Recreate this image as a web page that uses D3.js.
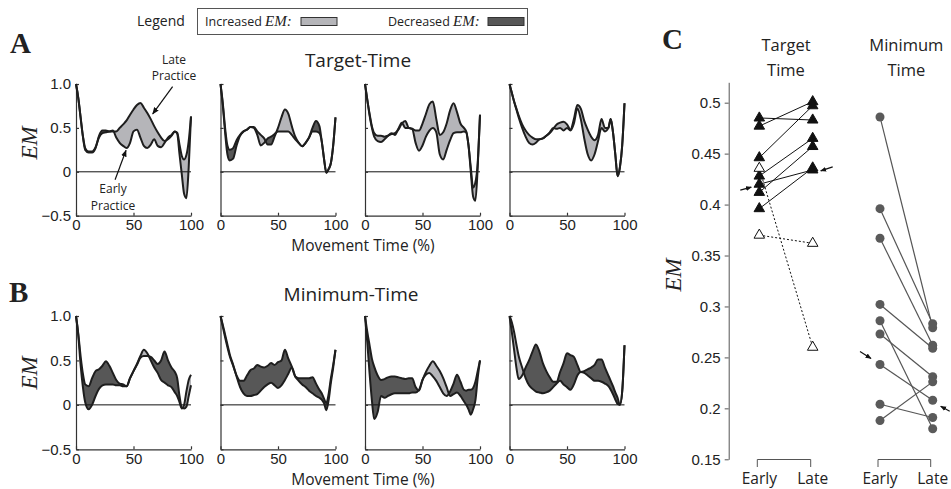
<!DOCTYPE html>
<html lang="en">
<head>
<meta charset="UTF-8">
<title>EM early vs late practice</title>
<script src="https://cdnjs.cloudflare.com/ajax/libs/d3/7.8.5/d3.min.js"></script>
<style>
    body { margin: 0; background: #fff; }
    text { fill: #222; }
    .sans { font-family: "Open Sans", sans-serif; }
    .serif { font-family: "Liberation Serif", "Times New Roman", serif; }
    .axis path, .axis line { stroke: #333; stroke-width: 1.2; }
    .axis text { font-family: "Liberation Sans", Arial, sans-serif; font-size: 15px; fill: #222; }
</style>
</head>
<body>
<svg id="chart" width="951" height="489"></svg>
<script>
// movement time (%) where the EM curves were read
const pct = [0,2,4,6,8,11,14,17,20,23,26,29,32,35,38,41,44,47,50,53,56,59,62,65,68,71,74,77,80,83,86,88,90,92,94,96,98,100];

// A: Target-Time, four subjects
const earlyTT1 = [1.0,0.84,0.62,0.40,0.25,0.22,0.22,0.27,0.41,0.47,0.47,0.46,0.47,0.39,0.33,0.295,0.27,0.33,0.46,0.48,0.39,0.295,0.27,0.31,0.37,0.295,0.28,0.33,0.39,0.42,0.46,0.435,0.2,-0.03,-0.25,-0.3,0.05,0.63];
const lateTT1  = [1.0,0.84,0.62,0.41,0.27,0.23,0.23,0.28,0.39,0.44,0.45,0.46,0.46,0.46,0.50,0.54,0.585,0.65,0.71,0.76,0.785,0.73,0.67,0.6,0.52,0.45,0.39,0.35,0.37,0.41,0.46,0.445,0.31,0.18,0.14,0.19,0.35,0.63];
const earlyTT2 = [1.0,0.78,0.5,0.3,0.25,0.27,0.36,0.42,0.46,0.48,0.51,0.5,0.42,0.3,0.33,0.38,0.4,0.43,0.46,0.46,0.46,0.46,0.42,0.37,0.33,0.29,0.33,0.39,0.5,0.58,0.52,0.35,0.15,-0.01,0.03,0.1,0.3,0.62];
const lateTT2  = [1.0,0.76,0.45,0.2,0.13,0.15,0.3,0.41,0.46,0.48,0.51,0.51,0.46,0.42,0.38,0.31,0.31,0.4,0.5,0.62,0.71,0.66,0.52,0.4,0.33,0.29,0.33,0.39,0.46,0.46,0.44,0.35,0.15,-0.01,0.03,0.1,0.3,0.62];
const earlyTT3 = [1.0,0.82,0.64,0.5,0.4,0.35,0.34,0.37,0.41,0.44,0.42,0.49,0.56,0.5,0.5,0.49,0.33,0.24,0.3,0.4,0.47,0.5,0.45,0.2,0.14,0.25,0.36,0.44,0.45,0.45,0.46,0.45,0.3,0.0,-0.28,-0.33,0.05,0.65];
const lateTT3  = [1.0,0.82,0.66,0.52,0.44,0.41,0.41,0.4,0.41,0.43,0.44,0.48,0.55,0.58,0.5,0.49,0.47,0.47,0.55,0.66,0.77,0.8,0.6,0.42,0.45,0.55,0.7,0.78,0.68,0.55,0.5,0.46,0.3,0.05,-0.18,-0.12,0.1,0.65];
const earlyTT4 = [1.0,0.9,0.8,0.71,0.62,0.5,0.4,0.33,0.31,0.33,0.37,0.38,0.41,0.45,0.5,0.49,0.5,0.47,0.5,0.47,0.55,0.72,0.6,0.38,0.2,0.13,0.2,0.35,0.5,0.46,0.5,0.6,0.45,0.2,-0.05,0.05,0.3,0.78];
const lateTT4  = [1.0,0.9,0.8,0.72,0.64,0.54,0.47,0.42,0.39,0.37,0.37,0.38,0.41,0.44,0.49,0.54,0.56,0.57,0.54,0.48,0.6,0.76,0.72,0.58,0.48,0.4,0.36,0.42,0.6,0.5,0.5,0.6,0.45,0.2,-0.05,0.05,0.3,0.78];

// B: Minimum-Time, four subjects
const earlyMT1 = [1.0,0.8,0.55,0.35,0.23,0.21,0.3,0.38,0.4,0.44,0.49,0.44,0.36,0.28,0.24,0.23,0.21,0.3,0.38,0.45,0.53,0.55,0.55,0.54,0.5,0.46,0.5,0.6,0.5,0.42,0.37,0.3,0.1,-0.03,-0.04,-0.02,0.1,0.22];
const lateMT1  = [1.0,0.78,0.45,0.2,0.03,-0.05,0.0,0.1,0.18,0.22,0.23,0.23,0.23,0.22,0.22,0.21,0.21,0.3,0.38,0.46,0.55,0.62,0.58,0.5,0.42,0.36,0.28,0.25,0.22,0.2,0.14,0.1,0.03,-0.04,0.0,0.15,0.28,0.34];
const earlyMT2 = [1.0,0.88,0.76,0.65,0.55,0.44,0.33,0.27,0.27,0.33,0.39,0.41,0.45,0.43,0.42,0.44,0.47,0.45,0.48,0.5,0.62,0.52,0.43,0.32,0.3,0.3,0.3,0.3,0.31,0.24,0.17,0.13,0.07,0.02,0.12,0.3,0.45,0.62];
const lateMT2  = [1.0,0.9,0.79,0.68,0.57,0.45,0.32,0.2,0.13,0.1,0.1,0.11,0.12,0.16,0.2,0.23,0.25,0.22,0.19,0.22,0.28,0.35,0.42,0.32,0.27,0.23,0.2,0.16,0.13,0.1,0.08,0.06,0.02,-0.06,0.05,0.25,0.42,0.62];
const earlyMT3 = [1.0,0.82,0.67,0.52,0.43,0.33,0.28,0.29,0.31,0.32,0.32,0.31,0.3,0.29,0.3,0.3,0.2,0.16,0.28,0.34,0.36,0.32,0.27,0.2,0.13,0.1,0.15,0.24,0.34,0.26,0.17,0.16,0.17,0.17,0.19,0.26,0.38,0.5];
const lateMT3  = [1.0,0.7,0.35,0.05,-0.16,-0.08,0.1,0.08,0.1,0.12,0.13,0.13,0.13,0.13,0.13,0.14,0.14,0.17,0.28,0.37,0.44,0.49,0.44,0.38,0.3,0.2,0.1,0.12,0.14,0.1,0.04,0.0,-0.05,-0.11,-0.05,0.05,0.3,0.5];
const earlyMT4 = [1.0,0.82,0.62,0.42,0.29,0.33,0.42,0.5,0.6,0.68,0.6,0.47,0.38,0.31,0.26,0.26,0.37,0.47,0.58,0.56,0.54,0.45,0.37,0.38,0.4,0.42,0.45,0.51,0.51,0.42,0.33,0.27,0.21,0.14,0.08,0.0,0.15,0.67];
const lateMT4  = [1.0,0.93,0.82,0.68,0.55,0.42,0.3,0.22,0.18,0.15,0.14,0.13,0.14,0.16,0.2,0.24,0.27,0.23,0.2,0.17,0.23,0.33,0.37,0.36,0.33,0.3,0.27,0.27,0.26,0.24,0.21,0.17,0.12,0.06,0.01,0.0,0.15,0.67];

const emTicks = [-0.5, 0, 0.5, 1.0];
const pctTicks = [0, 50, 100];

// C: mean EM per subject, early vs late
const phases = ['Early', 'Late'];
const ttEarly = [0.485, 0.477, 0.446, 0.428, 0.42, 0.412, 0.396];
const ttLate  = [0.483, 0.501, 0.497, 0.465, 0.434, 0.457, 0.436];
const ttOpenEarly = [0.4356, 0.37];
const ttOpenLate  = [0.26, 0.362];
const mtEarly = [0.486, 0.396, 0.367, 0.302, 0.286, 0.273, 0.243, 0.204, 0.188];
const mtLate  = [0.279, 0.283, 0.262, 0.259, 0.18, 0.231, 0.208, 0.191, 0.226];
const cTicks = [0.15, 0.2, 0.25, 0.3, 0.35, 0.4, 0.45, 0.5];

const lightFill = '#b5b5b9';
const darkFill = '#575757';

const svg = d3.select('#chart');

const defs = svg.append('defs');
defs.append('marker')
    .attr('id', 'head')
    .attr('viewBox', '0 0 10 10')
    .attr('refX', 9).attr('refY', 5)
    .attr('markerWidth', 7).attr('markerHeight', 7)
    .attr('markerUnits', 'userSpaceOnUse')
    .attr('orient', 'auto')
    .append('path').attr('d', 'M0,1L10,5L0,9z').style('fill', '#111');
defs.append('marker')
    .attr('id', 'headSmall')
    .attr('viewBox', '0 0 10 10')
    .attr('refX', 9).attr('refY', 5)
    .attr('markerWidth', 6).attr('markerHeight', 6)
    .attr('markerUnits', 'userSpaceOnUse')
    .attr('orient', 'auto')
    .append('path').attr('d', 'M0,1L10,5L0,9z').style('fill', '#111');

const drawArrow = (x1, y1, x2, y2, head) => {
    svg.append('line')
        .attr('x1', x1).attr('y1', y1).attr('x2', x2).attr('y2', y2)
        .style('stroke', '#111').style('stroke-width', 1.2)
        .attr('marker-end', `url(#${head})`);
};

// ---------- small multiples (A and B) ----------
const chartLeft = 76, chartStep = 144.5, chartWidth = 115;

const drawCurves = (id, early, late, x, y, first) => {
    const g = svg.append('g');
    const rows = pct.map((p, i) => ({p: p, e: early[i], l: late[i]}));
    const curve = d3.curveMonotoneX;

    const above = d3.area().curve(curve).x(d => x(d.p)).y0(d => y(d.e)).y1(y(1.5));
    const below = d3.area().curve(curve).x(d => x(d.p)).y0(d => y(d.e)).y1(y(-1));
    defs.append('clipPath').attr('id', `up-${id}`).append('path').attr('d', above(rows));
    defs.append('clipPath').attr('id', `down-${id}`).append('path').attr('d', below(rows));

    const between = d3.area().curve(curve).x(d => x(d.p)).y0(d => y(d.e)).y1(d => y(d.l));
    g.append('path').attr('d', between(rows)).attr('clip-path', `url(#up-${id})`).style('fill', lightFill);
    g.append('path').attr('d', between(rows)).attr('clip-path', `url(#down-${id})`).style('fill', darkFill);

    // zero line
    g.append('line')
        .attr('x1', x(0)).attr('x2', x(100)).attr('y1', y(0)).attr('y2', y(0))
        .style('stroke', '#111').style('stroke-width', 1);

    const yAxis = d3.axisLeft(y).tickValues(emTicks).tickSizeInner(-3).tickSizeOuter(0).tickPadding(5)
        .tickFormat(d => first ? (d === 0 ? '0' : d3.format('.1f')(d)) : '');
    g.append('g').attr('class', 'axis').attr('transform', `translate(${x(0)},0)`).call(yAxis);

    const xAxis = d3.axisBottom(x).tickValues(pctTicks).tickSizeInner(-3).tickSizeOuter(0).tickPadding(4);
    g.append('g').attr('class', 'axis').attr('transform', `translate(0,${y(-0.5)})`).call(xAxis);

    const line = d3.line().curve(curve).x(d => x(d.p));
    g.append('path').attr('d', line.y(d => y(d.l))(rows))
        .style('fill', 'none').style('stroke', '#1e1e1e').style('stroke-width', 2).style('stroke-linejoin', 'round');
    g.append('path').attr('d', line.y(d => y(d.e))(rows))
        .style('fill', 'none').style('stroke', '#1e1e1e').style('stroke-width', 2).style('stroke-linejoin', 'round');
};

const drawRow = (name, pairs, top, bottom) => {
    const y = d3.scaleLinear().domain([-0.5, 1]).range([bottom, top]);
    const xs = pairs.map((pair, i) => {
        const x0 = chartLeft + i * chartStep;
        const x = d3.scaleLinear().domain([0, 100]).range([x0, x0 + chartWidth]);
        drawCurves(`${name}${i}`, pair[0], pair[1], x, y, i === 0);
        return x;
    });
    return {xs: xs, y: y};
};

const rowA = drawRow('A', [[earlyTT1, lateTT1], [earlyTT2, lateTT2], [earlyTT3, lateTT3], [earlyTT4, lateTT4]], 84, 215.7);
const rowB = drawRow('B', [[earlyMT1, lateMT1], [earlyMT2, lateMT2], [earlyMT3, lateMT3], [earlyMT4, lateMT4]], 316, 449.3);

// row labels and titles
svg.append('text').attr('class', 'serif').attr('x', 10).attr('y', 53)
    .style('font-size', '29px').style('font-weight', 'bold').text('A');
svg.append('text').attr('class', 'serif').attr('x', 9).attr('y', 302)
    .style('font-size', '29px').style('font-weight', 'bold').text('B');

svg.append('text').attr('class', 'sans').attr('x', 358).attr('y', 67)
    .attr('text-anchor', 'middle').style('font-size', '19px').text('Target-Time');
svg.append('text').attr('class', 'sans').attr('x', 351).attr('y', 301)
    .attr('text-anchor', 'middle').style('font-size', '19px').text('Minimum-Time');

svg.append('text').attr('class', 'sans').attr('x', 363).attr('y', 251)
    .attr('text-anchor', 'middle').style('font-size', '15.5px').text('Movement Time (%)');
svg.append('text').attr('class', 'sans').attr('x', 363).attr('y', 485)
    .attr('text-anchor', 'middle').style('font-size', '15.5px').text('Movement Time (%)');

[143, 373].forEach(cy => {
    svg.append('text').attr('class', 'serif')
        .attr('transform', `translate(37,${cy}) rotate(-90)`)
        .attr('text-anchor', 'middle')
        .style('font-size', '23px').style('font-style', 'italic').text('EM');
});

// annotations in the first Target-Time subject
const xa = rowA.xs[0], ya = rowA.y;
svg.append('text').attr('class', 'sans').attr('x', 174).attr('y', 64).attr('text-anchor', 'middle')
    .style('font-size', '12px').text('Late');
svg.append('text').attr('class', 'sans').attr('x', 174).attr('y', 80).attr('text-anchor', 'middle')
    .style('font-size', '12px').text('Practice');
drawArrow(xa(84), ya(0.97), xa(66.7), ya(0.66), 'head');
svg.append('text').attr('class', 'sans').attr('x', 113).attr('y', 193).attr('text-anchor', 'middle')
    .style('font-size', '12px').text('Early');
svg.append('text').attr('class', 'sans').attr('x', 113).attr('y', 210).attr('text-anchor', 'middle')
    .style('font-size', '12px').text('Practice');
drawArrow(xa(34), ya(-0.09), xa(43.5), ya(0.245), 'head');

// legend
svg.append('text').attr('class', 'sans').attr('x', 137).attr('y', 26).style('font-size', '14px').text('Legend');
svg.append('rect').attr('x', 197.5).attr('y', 8.5).attr('width', 330).attr('height', 26)
    .style('fill', 'none').style('stroke', '#555').style('stroke-width', 1);
[['Increased', 205, 301, lightFill], ['Decreased', 388, 488, darkFill]].forEach(([label, tx, sx, fill]) => {
    const t = svg.append('text').attr('class', 'sans').attr('x', tx).attr('y', 26).style('font-size', '12.5px');
    t.append('tspan').text(label + ' ');
    t.append('tspan').attr('class', 'serif').style('font-size', '15px').style('font-style', 'italic').text('EM:');
    svg.append('rect').attr('x', sx).attr('y', 17.5).attr('width', 36).attr('height', 8)
        .style('fill', fill).style('stroke', '#333').style('stroke-width', 1);
});

// ---------- panel C ----------
const yC = d3.scaleLinear().domain([0.15, 0.52]).range([459.3, 82.3]);
const xTT = d3.scalePoint().domain(phases).range([759.3, 812.7]);
const xMT = d3.scalePoint().domain(phases).range([880, 932.7]);

const cAxis = d3.axisLeft(yC).tickValues(cTicks).tickSizeInner(4).tickSizeOuter(0).tickPadding(4)
    .tickFormat(d => String(d));
svg.append('g').attr('class', 'axis').attr('transform', 'translate(728.7,0)').call(cAxis)
    .selectAll('path, line').style('stroke', '#555').style('stroke-width', 1);

svg.append('text').attr('class', 'serif').attr('x', 662).attr('y', 49)
    .style('font-size', '29px').style('font-weight', 'bold').text('C');
svg.append('text').attr('class', 'serif')
    .attr('transform', 'translate(681,275) rotate(-90)').attr('text-anchor', 'middle')
    .style('font-size', '23px').style('font-style', 'italic').text('EM');

[[xTT, ['Target', 'Time']], [xMT, ['Minimum', 'Time']]].forEach(([x, words]) => {
    const cx = (x('Early') + x('Late')) / 2;
    words.forEach((w, i) => {
        svg.append('text').attr('class', 'sans').attr('x', cx).attr('y', 51 + i * 25)
            .attr('text-anchor', 'middle').style('font-size', '16.5px').text(w);
    });
    // bracket and phase labels
    svg.append('path')
        .attr('d', `M${x('Early') - 2},467V459.5H${x('Late') - 2}V467`)
        .style('fill', 'none').style('stroke', '#555').style('stroke-width', 1);
    phases.forEach(p => {
        svg.append('text').attr('class', 'sans').attr('x', x(p)).attr('y', 484)
            .attr('text-anchor', 'middle').style('font-size', '15.5px').text(p);
    });
});

// Target-Time subjects
const tri = d3.symbol().type(d3.symbolTriangle).size(48);
const ttPairs = ttEarly.map((e, i) => [e, ttLate[i]]);
const ttOpenPairs = ttOpenEarly.map((e, i) => [e, ttOpenLate[i]]);

svg.append('g').selectAll('line').data(ttOpenPairs).join('line')
    .attr('x1', xTT('Early')).attr('x2', xTT('Late'))
    .attr('y1', d => yC(d[0])).attr('y2', d => yC(d[1]))
    .style('stroke', '#111').style('stroke-width', 1).style('stroke-dasharray', '2,2');
svg.append('g').selectAll('line').data(ttPairs).join('line')
    .attr('x1', xTT('Early')).attr('x2', xTT('Late'))
    .attr('y1', d => yC(d[0])).attr('y2', d => yC(d[1]))
    .style('stroke', '#111').style('stroke-width', 1);

const ttPoints = [];
ttPairs.forEach(d => { ttPoints.push({x: 'Early', v: d[0], open: false}, {x: 'Late', v: d[1], open: false}); });
ttOpenPairs.forEach(d => { ttPoints.push({x: 'Early', v: d[0], open: true}, {x: 'Late', v: d[1], open: true}); });
svg.append('g').selectAll('path').data(ttPoints).join('path')
    .attr('d', tri)
    .attr('transform', d => `translate(${xTT(d.x)},${yC(d.v)})`)
    .style('fill', d => d.open ? '#fff' : '#111')
    .style('stroke', '#111').style('stroke-width', 1);

// Minimum-Time subjects
const mtPairs = mtEarly.map((e, i) => [e, mtLate[i]]);
svg.append('g').selectAll('line').data(mtPairs).join('line')
    .attr('x1', xMT('Early')).attr('x2', xMT('Late'))
    .attr('y1', d => yC(d[0])).attr('y2', d => yC(d[1]))
    .style('stroke', '#555').style('stroke-width', 1.2);
const mtPoints = [];
mtPairs.forEach(d => { mtPoints.push({x: 'Early', v: d[0]}, {x: 'Late', v: d[1]}); });
svg.append('g').selectAll('circle').data(mtPoints).join('circle')
    .attr('cx', d => xMT(d.x)).attr('cy', d => yC(d.v)).attr('r', 4.5)
    .style('fill', '#5a5a5a');

// arrows marking the subject shown in A and B
const tx = xTT('Early'), ty = yC(ttEarly[4]);
drawArrow(tx - 19, ty + 6, tx - 8, ty + 3, 'headSmall');
const lx = xTT('Late'), ly = yC(ttLate[4]);
drawArrow(lx + 20, ly - 3, lx + 8, ly + 1, 'headSmall');
const mx = xMT('Early'), my = yC(mtEarly[6]);
drawArrow(mx - 20, my - 13, mx - 9, my - 6, 'headSmall');
const nx = xMT('Late'), ny = yC(mtLate[6]);
drawArrow(nx + 17, ny + 11, nx + 8, ny + 6, 'headSmall');
</script>
</body>
</html>
